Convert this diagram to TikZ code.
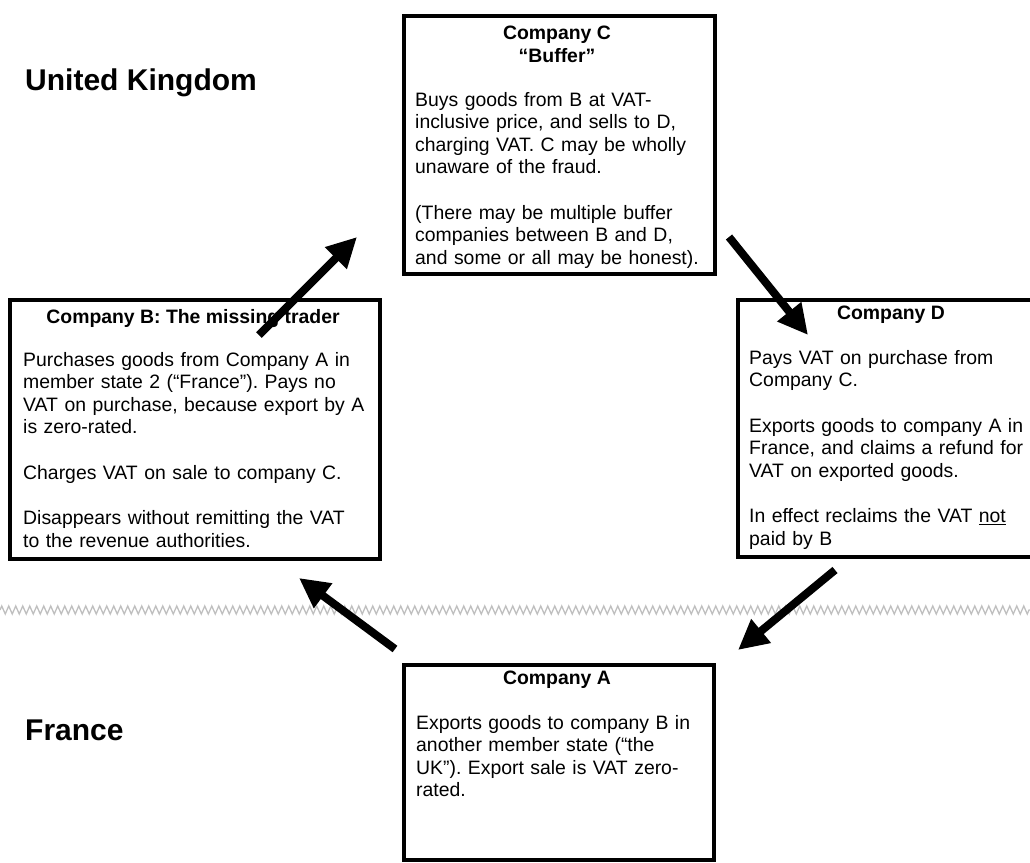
\documentclass[tikz,border=0pt]{standalone}
\usepackage{fontspec}
\setmainfont{Liberation Sans}
\usetikzlibrary{arrows.meta,decorations.pathmorphing}
\frenchspacing

\begin{document}
\begin{tikzpicture}[x=1pt, y=-1pt,
    company/.style={draw, line width=3.5pt, rectangle, anchor=north west, inner sep=0pt},
    boxtitle/.style={font=\fontsize{19.4}{22.5}\selectfont\bfseries, align=center, anchor=north, inner sep=0pt},
    boxbody/.style={font=\fontsize{19.4}{22.5}\selectfont, align=left, anchor=north west, inner sep=0pt, text width=360pt},
    country/.style={font=\fontsize{30}{34}\selectfont\bfseries, anchor=west, inner sep=0pt},
    flow/.style={line width=8pt, -{Triangle[length=30pt,width=29pt]}}]

    \useasboundingbox (0,0) rectangle (1030,862);

    % border between the two member states
    \draw [gray!50, line width=1.3pt, decorate,
        decoration={zigzag, segment length=7pt, amplitude=4pt}] (0,610) -- (1030,610);

    \node[country] (uk) at (25,83) {United Kingdom};
    \node[country] (fr) at (25,730) {France};

    % the four companies
    \node[company, minimum width=311pt, minimum height=258pt] (compC) at (402,14) {};
    \node[company, minimum width=370pt, minimum height=259pt] (compB) at (8,298) {};
    \node[company, minimum width=310pt, minimum height=257pt] (compD) at (736,298) {};
    \node[company, minimum width=310pt, minimum height=195pt] (compA) at (402,663) {};

    \node[boxtitle] (titleC) at (557,26) {Company C\\``Buffer''};
    \node[boxbody] (bodyC) at (415,92) {Buys goods from B at VAT-\\
        inclusive price, and sells to D,\\
        charging VAT. C may be wholly\\
        unaware of the fraud.\\[23pt]
        (There may be multiple buffer\\
        companies between B and D,\\
        and some or all may be honest).};

    \node[boxtitle] (titleB) at (193,309) {Company B: The missing trader};
    \node[boxbody] (bodyB) at (23,352) {Purchases goods from Company A in\\
        member state 2 (``France''). Pays no\\
        VAT on purchase, because export by A\\
        is zero-rated.\\[23pt]
        Charges VAT on sale to company C.\\[23pt]
        Disappears without remitting the VAT\\
        to the revenue authorities.};

    \node[boxtitle] (titleD) at (891,306) {Company D};
    \node[boxbody] (bodyD) at (749,350) {Pays VAT on purchase from\\
        Company C.\\[23pt]
        Exports goods to company A in\\
        France, and claims a refund for\\
        VAT on exported goods.\\[23pt]
        In effect reclaims the VAT \underline{not}\\
        paid by B};

    \node[boxtitle] (titleA) at (557,671) {Company A};
    \node[boxbody] (bodyA) at (416,715) {Exports goods to company B in\\
        another member state (``the\\
        UK''). Export sale is VAT zero-\\
        rated.};

    % the flow of goods round the carousel
    \coordinate (fromB) at (259,335);
    \coordinate (toC) at (357,237);
    \coordinate (fromC) at (729,237);
    \coordinate (toD) at (808,335);
    \coordinate (fromD) at (835,570);
    \coordinate (toA) at (738,650);
    \coordinate (fromA) at (395,649);
    \coordinate (toB) at (299,578);
    \draw [flow] (fromB) -- (toC);
    \draw [flow] (fromC) -- (toD);
    \draw [flow] (fromD) -- (toA);
    \draw [flow] (fromA) -- (toB);

\end{tikzpicture}
\end{document}
